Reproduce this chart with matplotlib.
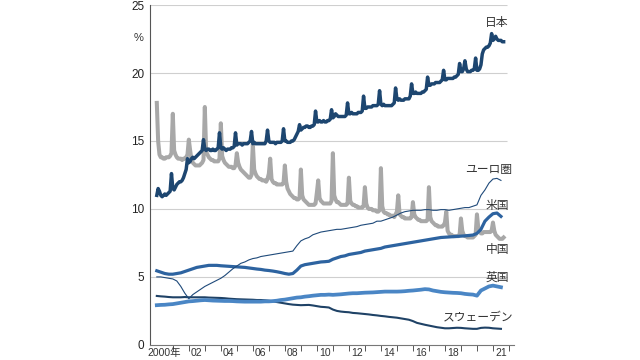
"""Cash in circulation as a share of GDP, by country (2000-2021)."""

import numpy as np
import pandas as pd
import matplotlib

matplotlib.use("Agg")
from matplotlib import pyplot as plt

# monthly series (Jan 2000 - Sep 2021), one row per year
japan_rows = [
    [11.0, 11.5, 11.3, 11.0, 10.9, 11.0, 11.1, 11.0, 11.1, 11.2, 11.3, 12.6],
    [11.5, 11.4, 11.6, 11.8, 11.9, 12.0, 12.0, 12.1, 12.3, 12.6, 12.9, 13.7],
    [13.4, 13.5, 13.7, 13.8, 13.7, 13.8, 13.9, 14.0, 14.1, 14.2, 14.3, 15.1],
    [14.4, 14.3, 14.4, 14.4, 14.3, 14.3, 14.4, 14.3, 14.3, 14.4, 14.5, 15.6],
    [14.5, 14.4, 14.5, 14.4, 14.3, 14.4, 14.4, 14.4, 14.5, 14.5, 14.6, 15.6],
    [14.7, 14.8, 14.8, 14.8, 14.7, 14.8, 14.8, 14.8, 14.8, 14.9, 15.0, 15.7],
    [14.8, 14.9, 14.8, 14.8, 14.8, 14.8, 14.8, 14.8, 14.8, 14.8, 15.0, 15.8],
    [15.0, 14.9, 14.9, 14.9, 14.9, 14.8, 14.9, 14.9, 14.9, 14.9, 15.0, 15.9],
    [15.0, 15.0, 14.9, 14.9, 14.9, 15.0, 15.0, 15.1, 15.3, 15.5, 15.7, 16.2],
    [15.8, 15.9, 16.0, 16.0, 16.1, 16.1, 16.0, 16.0, 16.1, 16.1, 16.2, 17.2],
    [16.4, 16.4, 16.5, 16.4, 16.4, 16.5, 16.4, 16.4, 16.5, 16.5, 16.6, 17.3],
    [16.7, 16.8, 17.0, 16.9, 16.8, 16.8, 16.8, 16.8, 16.8, 16.8, 16.9, 17.8],
    [17.0, 17.0, 17.1, 17.0, 17.0, 17.0, 17.0, 17.1, 17.1, 17.1, 17.2, 18.3],
    [17.4, 17.4, 17.5, 17.5, 17.5, 17.5, 17.6, 17.6, 17.6, 17.6, 17.7, 18.7],
    [17.7, 17.6, 17.7, 17.6, 17.6, 17.6, 17.6, 17.6, 17.6, 17.7, 17.8, 18.9],
    [18.1, 18.0, 18.1, 18.0, 18.0, 18.0, 18.1, 18.1, 18.1, 18.1, 18.3, 19.2],
    [18.5, 18.5, 18.6, 18.5, 18.5, 18.5, 18.5, 18.6, 18.6, 18.7, 18.8, 19.7],
    [19.1, 19.1, 19.2, 19.2, 19.2, 19.3, 19.3, 19.3, 19.3, 19.4, 19.5, 20.2],
    [19.5, 19.5, 19.6, 19.6, 19.6, 19.6, 19.6, 19.7, 19.7, 19.8, 19.9, 20.7],
    [20.1, 20.1, 20.3, 20.9, 20.3, 20.1, 20.1, 20.1, 20.2, 20.2, 20.3, 21.1],
    [20.2, 20.2, 20.3, 20.6, 21.4, 21.7, 21.8, 21.9, 21.9, 22.0, 22.2, 22.9],
    [22.4, 22.5, 22.7, 22.5, 22.4, 22.4, 22.4, 22.3, 22.3],
]

china_rows = [
    [17.8, 15.0, 14.0, 13.8, 13.8, 13.7, 13.7, 13.8, 13.8, 13.8, 13.9, 14.1],
    [17.0, 14.3, 14.0, 13.8, 13.7, 13.7, 13.7, 13.6, 13.7, 13.7, 13.8, 14.0],
    [15.1, 14.3, 13.6, 13.4, 13.3, 13.2, 13.2, 13.2, 13.2, 13.3, 13.4, 13.6],
    [17.5, 14.2, 14.0, 13.8, 13.7, 13.6, 13.6, 13.5, 13.5, 13.5, 13.5, 13.7],
    [16.3, 13.9, 13.6, 13.4, 13.3, 13.2, 13.1, 13.1, 13.1, 13.0, 13.0, 13.2],
    [14.1, 13.4, 13.1, 12.9, 12.8, 12.7, 12.6, 12.5, 12.4, 12.3, 12.3, 12.5],
    [14.8, 12.9, 12.6, 12.4, 12.3, 12.2, 12.2, 12.1, 12.1, 12.1, 12.0, 12.2],
    [12.6, 13.7, 12.2, 12.0, 11.9, 11.9, 11.8, 11.8, 11.8, 11.8, 11.8, 11.9],
    [13.2, 12.0, 11.5, 11.3, 11.1, 11.0, 10.9, 10.8, 10.8, 10.7, 10.7, 10.8],
    [12.9, 11.0, 10.7, 10.6, 10.5, 10.4, 10.3, 10.3, 10.3, 10.3, 10.3, 10.4],
    [11.2, 12.1, 10.8, 10.6, 10.5, 10.4, 10.4, 10.4, 10.4, 10.4, 10.4, 10.6],
    [14.1, 11.0, 10.7, 10.5, 10.5, 10.4, 10.3, 10.3, 10.3, 10.3, 10.3, 10.4],
    [12.3, 10.6, 10.4, 10.3, 10.3, 10.2, 10.2, 10.1, 10.1, 10.1, 10.1, 10.2],
    [11.6, 10.4, 10.1, 10.0, 10.0, 10.0, 9.9, 9.9, 9.9, 9.8, 9.8, 9.9],
    [13.0, 10.2, 9.8, 9.7, 9.7, 9.6, 9.6, 9.5, 9.5, 9.5, 9.4, 9.6],
    [9.8, 11.0, 9.6, 9.5, 9.4, 9.4, 9.3, 9.3, 9.3, 9.3, 9.3, 9.4],
    [10.5, 9.6, 9.4, 9.3, 9.2, 9.2, 9.1, 9.1, 9.1, 9.1, 9.1, 9.2],
    [11.6, 9.4, 9.1, 9.0, 8.9, 8.8, 8.8, 8.7, 8.7, 8.7, 8.7, 8.8],
    [9.0, 9.8, 8.4, 8.2, 8.1, 8.1, 8.0, 8.0, 8.0, 8.0, 8.0, 8.1],
    [9.3, 8.4, 8.1, 8.0, 8.0, 7.9, 7.9, 7.9, 7.9, 7.9, 8.0, 8.1],
    [9.6, 8.6, 8.4, 8.2, 8.2, 8.3, 8.3, 8.3, 8.3, 8.3, 8.3, 8.4],
    [9.0, 8.4, 8.1, 8.0, 7.9, 7.8, 7.8, 7.8, 7.9],
]

# quarterly series (2000Q1 - 2021Q3), one row per year
euro_rows = [
    [5.0, 5.0, 4.95, 4.9], [4.85, 4.7, 4.3, 3.8], [3.4, 3.7, 3.9, 4.1],
    [4.3, 4.45, 4.6, 4.75], [4.9, 5.1, 5.35, 5.6], [5.8, 6.0, 6.1, 6.25],
    [6.35, 6.4, 6.5, 6.55], [6.6, 6.65, 6.7, 6.75], [6.8, 6.85, 6.9, 7.3],
    [7.65, 7.8, 7.9, 8.1], [8.2, 8.3, 8.35, 8.4], [8.45, 8.5, 8.5, 8.55],
    [8.6, 8.65, 8.7, 8.8], [8.85, 8.9, 8.95, 9.1], [9.1, 9.2, 9.3, 9.4],
    [9.55, 9.7, 9.8, 9.85], [9.9, 9.9, 9.9, 9.95], [9.95, 9.9, 9.9, 9.95],
    [9.95, 9.9, 9.95, 10.0], [10.05, 10.1, 10.1, 10.2], [10.3, 11.0, 11.4, 11.9],
    [12.2, 12.25, 12.1],
]

us_rows = [
    [5.45, 5.35, 5.25, 5.2], [5.2, 5.25, 5.3, 5.4], [5.5, 5.6, 5.7, 5.75],
    [5.8, 5.85, 5.85, 5.85], [5.82, 5.8, 5.78, 5.76], [5.74, 5.72, 5.7, 5.66],
    [5.62, 5.58, 5.55, 5.5], [5.47, 5.43, 5.38, 5.32], [5.25, 5.2, 5.25, 5.5],
    [5.8, 5.9, 5.95, 6.0], [6.05, 6.1, 6.12, 6.15], [6.3, 6.4, 6.5, 6.55],
    [6.65, 6.7, 6.75, 6.8], [6.9, 6.95, 7.0, 7.05], [7.1, 7.2, 7.25, 7.3],
    [7.35, 7.4, 7.45, 7.5], [7.55, 7.6, 7.65, 7.7], [7.75, 7.8, 7.85, 7.9],
    [7.92, 7.94, 7.96, 7.98], [8.0, 8.02, 8.05, 8.08], [8.2, 8.5, 9.1, 9.4],
    [9.65, 9.7, 9.45],
]

uk_rows = [
    [2.92, 2.94, 2.95, 2.98], [3.0, 3.05, 3.1, 3.15], [3.2, 3.22, 3.25, 3.28],
    [3.3, 3.28, 3.26, 3.25], [3.24, 3.23, 3.23, 3.22], [3.2, 3.19, 3.18, 3.18],
    [3.18, 3.18, 3.18, 3.2], [3.2, 3.22, 3.25, 3.3], [3.33, 3.38, 3.43, 3.48],
    [3.5, 3.55, 3.58, 3.62], [3.65, 3.68, 3.68, 3.7], [3.68, 3.7, 3.72, 3.75],
    [3.78, 3.8, 3.8, 3.82], [3.84, 3.85, 3.86, 3.88], [3.9, 3.92, 3.92, 3.92],
    [3.92, 3.93, 3.95, 3.98], [4.0, 4.03, 4.06, 4.1], [4.08, 4.0, 3.95, 3.9],
    [3.87, 3.85, 3.83, 3.82], [3.8, 3.75, 3.72, 3.7], [3.62, 4.0, 4.15, 4.3],
    [4.36, 4.3, 4.24],
]

sweden_rows = [
    [3.6, 3.57, 3.55, 3.52], [3.5, 3.5, 3.5, 3.52], [3.5, 3.5, 3.5, 3.5],
    [3.5, 3.48, 3.47, 3.46], [3.45, 3.43, 3.4, 3.38], [3.36, 3.35, 3.34, 3.33],
    [3.32, 3.3, 3.3, 3.28], [3.25, 3.2, 3.15, 3.1], [3.05, 3.0, 2.96, 2.94],
    [2.92, 2.93, 2.94, 2.9], [2.85, 2.8, 2.78, 2.75], [2.6, 2.5, 2.45, 2.42],
    [2.4, 2.35, 2.33, 2.3], [2.27, 2.24, 2.2, 2.17], [2.13, 2.1, 2.06, 2.03],
    [2.0, 1.95, 1.9, 1.85], [1.75, 1.62, 1.55, 1.48], [1.42, 1.36, 1.3, 1.26],
    [1.22, 1.22, 1.24, 1.26], [1.25, 1.22, 1.2, 1.18], [1.18, 1.25, 1.27, 1.26],
    [1.22, 1.2, 1.18],
]

year_ticks = list(range(2001, 2023))
label_years = [2000, 2002, 2004, 2006, 2008, 2010, 2012, 2014, 2016, 2018, 2021]
label_texts = ["2000年", "02", "04", "06", "08", "10", "12", "14", "16", "18", "21"]
y_ticks = [0, 5, 10, 15, 20, 25]

series_labels = [
    ("日本", 2021.25, 23.7),
    ("ユーロ圏", 2020.7, 12.9),
    ("米国", 2021.25, 10.25),
    ("中国", 2021.3, 7.0),
    ("英国", 2021.3, 5.0),
    ("スウェーデン", 2020.05, 2.0),
]


def decimal_years(dates):
    return dates.year + (dates.month - 1) / 12


months = decimal_years(pd.date_range("2000-01-01", "2021-09-01", freq="MS"))
quarters = decimal_years(pd.date_range("2000-01-01", "2021-07-01", freq="QS"))

japan = np.concatenate(japan_rows)
china = np.concatenate(china_rows)
euro = np.concatenate(euro_rows)
us = np.concatenate(us_rows)
uk = np.concatenate(uk_rows)
sweden = np.concatenate(sweden_rows)

plt.rcParams["font.family"] = ["Liberation Sans", "Noto Sans CJK JP"]

fig = plt.figure(figsize=(6.4, 3.6), dpi=100)
ax = fig.add_axes([0.234, 0.042, 0.569, 0.944])
ax.set_xlim(1999.56, 2022.31)
ax.set_ylim(0, 25)

ax.hlines(y_ticks[1:], 1999.56, 2021.88, color="#cfcfcf", linewidth=0.8, zorder=1)

ax.plot(quarters, sweden, color="#1f4266", linewidth=1.5, zorder=3)
ax.plot(quarters, uk, color="#4a86c5", linewidth=2.7, zorder=3)
ax.plot(quarters, us, color="#2d63a0", linewidth=2.3, zorder=3)
ax.plot(months, china, color="#a8a8a8", linewidth=2.9, zorder=2)
ax.plot(quarters, euro, color="#1f4a7a", linewidth=0.8, zorder=4)
ax.plot(months, japan, color="#1d4670", linewidth=2.5, zorder=4)

for text, x, y in series_labels:
    ax.text(x, y, text, family="Noto Sans CJK JP", fontsize=8.5, color="#333333",
            ha="center", va="center")

ax.text(1998.85, 22.6, "%", fontsize=8, color="#333333", ha="center", va="center",
        clip_on=False)

ax.set_yticks(y_ticks)
ax.set_yticklabels([str(v) for v in y_ticks], fontsize=8.5, color="#222222")
ax.tick_params(axis="y", length=0, pad=4)

ax.set_xticks(year_ticks)
ax.set_xticklabels([])
ax.tick_params(axis="x", which="major", length=4, width=0.7, color="#555555")
ax.set_xticks([y + 0.5 if y > 2000 else 2000.45 for y in label_years], minor=True)
ax.set_xticklabels(label_texts, minor=True, fontsize=7.5, color="#333333",
                   family=["Liberation Sans", "Noto Sans CJK JP"])
ax.tick_params(axis="x", which="minor", length=0, pad=2.5)

for side in ["top", "right"]:
    ax.spines[side].set_visible(False)
ax.spines["left"].set_color("#555555")
ax.spines["left"].set_linewidth(0.8)
ax.spines["bottom"].set_color("#777777")
ax.spines["bottom"].set_linewidth(0.8)

fig.savefig("out.png", dpi=100)
plt.close(fig)
